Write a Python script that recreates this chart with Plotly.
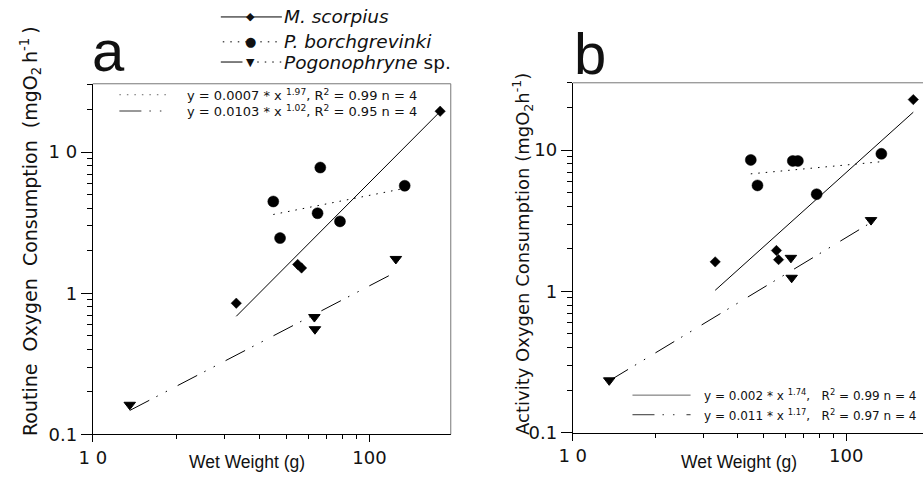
import numpy as np
import plotly.graph_objects as go

# ---- measured data: (a) routine, (b) activity oxygen consumption ----
# M. scorpius
a_ms_x = [33.0, 55.0, 56.8, 180.0]
a_ms_y = [0.85, 1.60, 1.51, 19.5]
b_ms_x = [33.2, 55.6, 56.6, 176.0]
b_ms_y = [1.62, 1.95, 1.68, 22.8]
# P. borchgrevinki
a_pb_x = [44.9, 47.5, 64.9, 66.4, 78.2, 134.0]
a_pb_y = [4.47, 2.46, 3.69, 7.78, 3.23, 5.78]
b_pb_x = [44.8, 47.4, 63.8, 66.6, 78.0, 134.5]
b_pb_y = [8.53, 5.63, 8.39, 8.39, 4.88, 9.43]
# Pogonophryne sp.
a_pg_x = [13.6, 63.2, 63.5, 124.5]
a_pg_y = [0.162, 0.678, 0.556, 1.75]
b_pg_x = [13.6, 62.8, 63.2, 123.3]
b_pg_y = [0.235, 1.73, 1.25, 3.20]

# power-law fits y = c * x^k  (c, k)
a_ms_fit = (0.0007, 1.97)
a_pb_fit = (0.82, 0.39)
a_pg_fit = (0.0103, 1.02)
b_ms_fit = (0.0023, 1.74)
b_pb_fit = (3.43, 0.18)
b_pg_fit = (0.011, 1.17)

SANS = "Liberation Sans, Arial, Helvetica, sans-serif"
WIDE = "DejaVu Sans, Verdana, sans-serif"
INK = "#111"
W, H = 923, 494

DASH_PG = "22px,8px,1.5px,9px,1.5px,12px"
DOT = "1.5px,6px"
SPECIES = [
    ("<i>M. scorpius</i>", "diamond", 8, "solid", "\u25C6", 11),
    ("<i>P. borchgrevinki</i>", "circle", 11, DOT, "\u25CF", 13),
    ("<i>Pogonophryne</i> sp.", "triangle-down", 10, DASH_PG, "\u25BC", 11),
]


def fit_curve(xs, fit):
    c, k = fit
    xx = np.geomspace(min(xs), max(xs), 60)
    return xx, c * xx ** k


fig = go.Figure()

panels = [
    ("x", "y", [(a_ms_x, a_ms_y, a_ms_fit), (a_pb_x, a_pb_y, a_pb_fit), (a_pg_x, a_pg_y, a_pg_fit)]),
    ("x2", "y2", [(b_ms_x, b_ms_y, b_ms_fit), (b_pb_x, b_pb_y, b_pb_fit), (b_pg_x, b_pg_y, b_pg_fit)]),
]

for xa, ya, series in panels:
    for (xs, ys, fit), (name, sym, size, dash, glyph, gsize) in zip(series, SPECIES):
        fx, fy = fit_curve(xs, fit)
        fig.add_trace(go.Scatter(
            x=fx, y=fy, mode="lines", xaxis=xa, yaxis=ya, showlegend=False,
            line=dict(color="black", width=1, dash=dash), hoverinfo="skip"))
        fig.add_trace(go.Scatter(
            x=xs, y=ys, mode="markers", xaxis=xa, yaxis=ya, showlegend=False, name=name,
            marker=dict(symbol=sym, size=size, color="black",
                        line=dict(width=0.5 if sym != "triangle-down" else 1, color="black"))))

# axis geometry
ax_common = dict(type="log", showline=True, linecolor="black", linewidth=1,
                 ticks="outside", tickcolor="black", showgrid=False, zeroline=False,
                 tickfont=dict(family=WIDE, size=18, color=INK))

xa_dom = [80 / W, 443.5 / W]
ya_dom = [1 - 443.3 / H, 1 - 85.5 / H]
xb_dom = [567.3 / W, 1.0]
yb_dom = [1 - 441.7 / H, 1 - 84.5 / H]

minor_x = dict(ticks="outside", ticklen=4, tickcolor="black", dtick="D1")
minor_y = dict(ticks="outside", ticklen=5, tickcolor="black", dtick="D1")

fig.update_layout(
    xaxis=dict(ax_common, domain=xa_dom, range=[1, 2.2936], anchor="y",
               tickvals=[10, 100], ticktext=["1 0", "100"], ticklen=7, minor=minor_x),
    yaxis=dict(ax_common, domain=ya_dom, range=[-1, 1.4847], anchor="x",
               tickvals=[0.1, 1, 10], ticktext=["0.1", "1", "1 0"], ticklen=11, minor=minor_y),
    xaxis2=dict(ax_common, domain=xb_dom, range=[1, 2.281], anchor="y2",
                tickvals=[10, 100], ticktext=["1 0", "100"], ticklen=7, minor=minor_x),
    yaxis2=dict(ax_common, domain=yb_dom, range=[-1, 1.477], anchor="x2",
                tickvals=[0.1, 1, 10], ticktext=["0.1", "1", "10"], ticklen=11, minor=minor_y),
    width=W, height=H, margin=dict(l=0, r=0, t=0, b=0),
    paper_bgcolor="white", plot_bgcolor="white",
    font=dict(family=SANS, color=INK),
    showlegend=False,
)

# frame top/right lines
shapes = [
    dict(type="line", xref="paper", yref="paper", x0=xa_dom[0], x1=xa_dom[1], y0=ya_dom[1], y1=ya_dom[1],
         line=dict(color="#777", width=1)),
    dict(type="line", xref="paper", yref="paper", x0=xa_dom[1], x1=xa_dom[1], y0=ya_dom[0], y1=ya_dom[1],
         line=dict(color="#777", width=1)),
    dict(type="line", xref="paper", yref="paper", x0=xb_dom[0], x1=xb_dom[1], y0=yb_dom[1], y1=yb_dom[1],
         line=dict(color="#777", width=1)),
]

annotations = []


def px(xp, yp):
    return xp / W, 1 - yp / H


def text(xp, yp, s, size=17, family=SANS, xanchor="center", yanchor="middle", angle=0):
    x, y = px(xp, yp)
    annotations.append(dict(x=x, y=y, xref="paper", yref="paper", text=s, showarrow=False,
                            xanchor=xanchor, yanchor=yanchor, textangle=angle,
                            font=dict(family=family, size=size, color=INK)))


def key_line(x0, x1, yp, dash, color="black"):
    a0, b0 = px(x0, yp)
    a1, _ = px(x1, yp)
    shapes.append(dict(type="line", xref="paper", yref="paper", x0=a0, x1=a1, y0=b0, y1=b0,
                       line=dict(color=color, width=1, dash=dash)))


# panel letters
text(96, 52, "a", size=58)
text(585, 55, "b", size=58)

# axis titles
text(237, 472, "Wet Weight (g)", size=17.5)
text(736, 472, "Wet Weight (g)", size=17.5)
SP = " \u00a0"
TH = "\u2009"
text(16, 236, "Routine" + SP + "Oxygen" + SP + "Consumption" + SP
     + "(mgO<sub>2</sub>" + TH + "h<sup>-1</sup>" + TH + ")",
     size=19, family=WIDE, angle=-90)
text(516, 259, "Activity Oxygen Consumption (mgO<sub>2</sub>h<sup>-1</sup>)",
     size=18, family=WIDE, angle=-90)

# species key
key_rows = [(17.3, 210, 272), (42.7, 212, 267), (63.3, 210, 272)]
for (yp, x0, x1), (name, sym, size, dash, glyph, gsize) in zip(key_rows, SPECIES):
    if dash == DASH_PG:
        key_line(x0, 232, yp, "solid")
        key_line(247, x1, yp, "1.5px,6px")
    else:
        key_line(x0, x1, yp, dash)
    text(240, yp, glyph, size=gsize, family=WIDE)
    text(272, yp, name, size=18.5, family=WIDE, xanchor="left")

# equation keys
eq_rows = [
    (107, 160, 96.7, DOT, "#666", 174, 13, "y = 0.0007 * x <sup>1.97</sup>, R<sup>2</sup> = 0.99 n = 4"),
    (107, 160, 113.3, DASH_PG, "#333", 174, 13, "y = 0.0103 * x <sup>1.02</sup>, R<sup>2</sup> = 0.95 n = 4"),
    (628, 687, 403.3, "solid", "#666", 699, 12, "y = 0.002 * x <sup>1.74</sup>,\u00a0\u00a0 R<sup>2</sup> = 0.99 n = 4"),
    (628, 687, 423.3, DASH_PG, "#333", 699, 12, "y = 0.011 * x <sup>1.17</sup>,\u00a0\u00a0 R<sup>2</sup> = 0.97 n = 4"),
]
for x0, x1, yp, dash, col, tx, fs, s in eq_rows:
    key_line(x0, x1, yp, dash, col)
    text(tx, yp, s, size=fs, family=WIDE, xanchor="left")

fig.update_layout(shapes=shapes, annotations=annotations)
fig.write_html("out.html")
